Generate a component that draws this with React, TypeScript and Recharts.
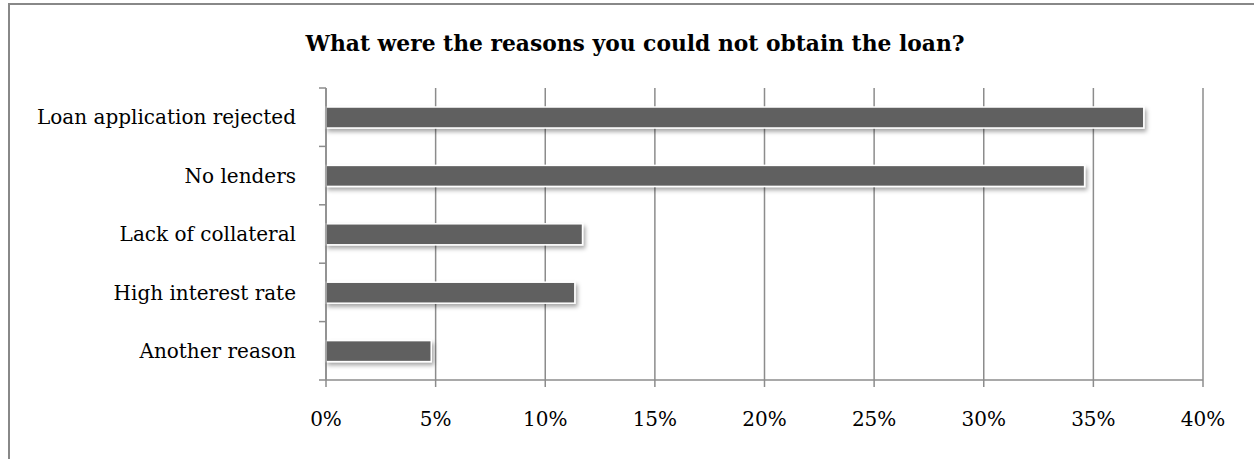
import { BarChart, Bar, XAxis, YAxis, CartesianGrid } from 'recharts'

const reasons = ['Loan application rejected', 'No lenders', 'Lack of collateral', 'High interest rate', 'Another reason']
const shares = [0.373, 0.346, 0.117, 0.1135, 0.048]
const xTicks = [0, 0.05, 0.1, 0.15, 0.2, 0.25, 0.3, 0.35, 0.4]

const data = reasons.map((reason, i) => ({ reason, share: shares[i] }))

const FONT = '"DejaVu Serif", serif'
const GRID = '#8c8c8c'
const Y_TICK = 7
const Y_GAP = 30

function ShadowBar(props: any) {
  const { x, y, width, height } = props
  if (!width || width <= 0) return null
  return (
    <rect
      x={x}
      y={y}
      width={width}
      height={height}
      fill="#606060"
      stroke="#ffffff"
      strokeWidth={1.5}
      filter="url(#barShadow)"
    />
  )
}

// category label plus tick marks on the band edges (like Excel)
function CategoryTick(props: any) {
  const { x, y, payload, index, visibleTicksCount } = props
  const half = payload?.offset ?? 0
  const ax = x + Y_GAP
  const last = index === (visibleTicksCount ?? reasons.length) - 1
  return (
    <g>
      <line x1={ax - Y_TICK} x2={ax} y1={y - half} y2={y - half} stroke={GRID} strokeWidth={1.5} />
      {last && <line x1={ax - Y_TICK} x2={ax} y1={y + half} y2={y + half} stroke={GRID} strokeWidth={1.5} />}
      <text x={x} y={y} dy="0.355em" textAnchor="end" fill="#000" fontFamily={FONT} fontSize={20}>
        {payload.value}
      </text>
    </g>
  )
}

export default function App() {
  return (
    <div style={{ position: 'absolute', left: 0, top: 0, width: 1254, height: 459, overflow: 'hidden', background: '#fff' }}>
      <div
        style={{
          position: 'absolute',
          left: 8,
          top: 3,
          width: 1300,
          height: 500,
          borderTop: '2px solid #888',
          borderLeft: '2px solid #888',
        }}
      />
      <div
        style={{
          position: 'absolute',
          left: 0,
          width: 1270,
          top: 31,
          textAlign: 'center',
          fontFamily: FONT,
          fontWeight: 'bold',
          fontSize: 21.8,
          color: '#000',
        }}
      >
        What were the reasons you could not obtain the loan?
      </div>
      <div style={{ position: 'absolute', left: 0, top: 0 }}>
        <BarChart
          width={1254}
          height={459}
          data={data}
          layout="vertical"
          margin={{ top: 88, right: 51, bottom: 0, left: 0 }}
          barSize={21}
        >
          <defs>
            <filter id="barShadow" x="-5%" y="-30%" width="115%" height="190%">
              <feDropShadow dx="2" dy="3" stdDeviation="2" floodColor="#000" floodOpacity="0.35" />
            </filter>
          </defs>
          <CartesianGrid horizontal={false} stroke={GRID} strokeWidth={1.5} />
          <XAxis
            type="number"
            domain={[0, 0.4]}
            ticks={xTicks}
            tickFormatter={(v: number) => `${Math.round(v * 100)}%`}
            height={79}
            tickSize={7}
            tickMargin={25}
            stroke={GRID}
            strokeWidth={1.5}
            tick={{ fill: '#000', fontFamily: FONT, fontSize: 20 }}
          />
          <YAxis
            type="category"
            dataKey="reason"
            width={326}
            tickLine={false}
            tickSize={0}
            tickMargin={Y_GAP}
            stroke={GRID}
            strokeWidth={1.5}
            tick={<CategoryTick />}
          />
          <Bar dataKey="share" shape={<ShadowBar />} isAnimationActive={false} />
        </BarChart>
      </div>
    </div>
  )
}
